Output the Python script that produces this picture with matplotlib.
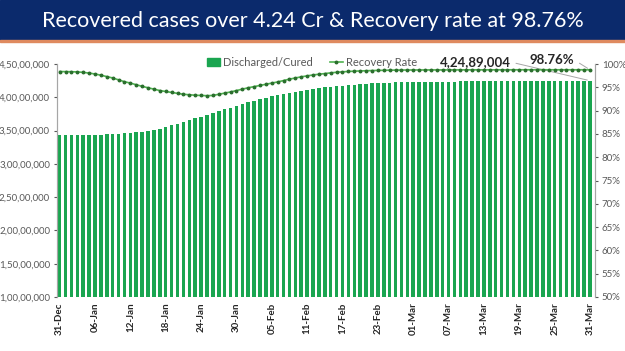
import numpy as np
import pandas as pd
import matplotlib
matplotlib.use('Agg')
from matplotlib import pyplot as plt
from matplotlib.patches import Rectangle
from matplotlib.lines import Line2D
from matplotlib.ticker import FuncFormatter, MultipleLocator

plt.rcParams['font.family'] = ['Lato', 'DejaVu Sans']

title = 'Recovered cases over 4.24 Cr & Recovery rate at 98.76%'
dates = pd.date_range('2021-12-31', '2022-03-31', freq='D')

# cumulative discharged/cured, in lakh
recovered_lakh = [
    342.6, 342.7, 342.9, 343.1, 343.2, 343.4, 343.7, 344.0, 344.3, 344.5,
    345.0, 345.7, 346.3, 347.2, 348.2, 349.6, 351.2, 353.0, 355.8, 358.3,
    360.6, 363.0, 365.6, 368.2, 370.5, 373.7, 376.5, 379.0, 381.7, 384.6,
    387.2, 389.8, 392.5, 395.0, 397.3, 399.5, 401.5, 403.3, 405.0, 406.8,
    408.5, 410.0, 411.5, 412.8, 414.0, 415.0, 416.0, 416.9, 417.7, 418.5,
    419.2, 419.8, 420.4, 420.9, 421.4, 421.8, 422.1, 422.4, 422.7, 422.9,
    423.1, 423.2, 423.3, 423.4, 423.5, 423.6, 423.65, 423.7, 423.8, 423.85,
    423.9, 424.0, 424.05, 424.1, 424.15, 424.2, 424.25, 424.3, 424.35, 424.4,
    424.45, 424.5, 424.55, 424.6, 424.65, 424.7, 424.74, 424.78, 424.82, 424.86,
    424.89004,
]

# recovery rate, %
recovery_rate = [
    98.38, 98.36, 98.34, 98.30, 98.20, 98.05, 97.85, 97.60, 97.30, 97.00,
    96.60, 96.20, 95.90, 95.55, 95.20, 94.90, 94.60, 94.30, 94.10, 93.90,
    93.70, 93.50, 93.40, 93.30, 93.25, 93.20, 93.25, 93.50, 93.75, 94.00,
    94.30, 94.60, 94.90, 95.15, 95.40, 95.65, 95.90, 96.15, 96.45, 96.75,
    97.00, 97.25, 97.45, 97.65, 97.80, 97.95, 98.10, 98.22, 98.32, 98.40,
    98.46, 98.51, 98.55, 98.59, 98.62, 98.65, 98.67, 98.69, 98.70, 98.71,
    98.72, 98.72, 98.72, 98.73, 98.73, 98.73, 98.74, 98.74, 98.74, 98.74,
    98.75, 98.75, 98.75, 98.75, 98.75, 98.75, 98.75, 98.76, 98.76, 98.76,
    98.76, 98.76, 98.76, 98.76, 98.76, 98.76, 98.76, 98.76, 98.76, 98.76,
    98.76,
]

last_recovered_label = '4,24,89,004'
last_rate_label = '98.76%'


def inr(v, pos=None):
    s = str(int(round(v)))
    if len(s) <= 3:
        return s
    head, tail = s[:-3], s[-3:]
    parts = []
    while len(head) > 2:
        parts.insert(0, head[-2:])
        head = head[:-2]
    if head:
        parts.insert(0, head)
    return ','.join(parts + [tail])


recovered = np.array(recovered_lakh) * 1e5
x = np.arange(len(dates))

fig = plt.figure(figsize=(6.25, 3.51), dpi=100)

# title banner
fig.patches.append(Rectangle((0, 1 - 40 / 351), 1, 40 / 351, transform=fig.transFigure,
                             color='#0b2a6c', zorder=0))
fig.patches.append(Rectangle((0, 1 - 42 / 351), 1, 2 / 351, transform=fig.transFigure,
                             color='#df8a5f', zorder=0))
fig.text(0.5, 1 - 21 / 351, title, color='white', fontsize=15.5, ha='center', va='center')

ax = fig.add_axes([57 / 625, 1 - 297 / 351, 538 / 625, 233 / 351])
bars = ax.bar(x, recovered, width=0.6, color='#1aa550', label='Discharged/Cured')
ax.set_ylim(1e7, 4.5e7)
ax.set_xlim(-0.45, 90.85)
ax.yaxis.set_major_locator(MultipleLocator(5e6))
ax.yaxis.set_major_formatter(FuncFormatter(inr))
ax.set_xticks(x[::6])
ax.set_xticklabels([d.strftime('%d-%b') for d in dates[::6]], rotation=90,
                   fontsize=7, fontweight='bold', color='#262626')
ax.tick_params(axis='x', length=0, pad=4)
ax.tick_params(axis='y', labelsize=7, colors='#595959', length=2, pad=3)

ax2 = ax.twinx()
ax2.plot(x, recovery_rate, color='#4fb34f', lw=1.2, marker='o', ms=1.8,
         mfc='#2b6e2e', mec='#2b6e2e', label='Recovery Rate')
ax2.set_ylim(50, 100)
ax2.yaxis.set_major_locator(MultipleLocator(5))
ax2.yaxis.set_major_formatter(FuncFormatter(lambda v, p: '%d%%' % v))
ax2.tick_params(axis='y', labelsize=7, colors='#595959', length=2, pad=3)

for a in (ax, ax2):
    a.spines['top'].set_visible(False)
    a.spines['bottom'].set_visible(False)
    a.spines['left'].set_color('#a6a6a6')
    a.spines['right'].set_color('#a6a6a6')

# callouts for the last day
ax.annotate(last_recovered_label, xy=(x[-1], recovered[-1]),
            xytext=(475 / 625, 1 - 62 / 351), textcoords='figure fraction',
            ha='center', va='center', fontsize=9.5, fontweight='bold', color='#262626',
            arrowprops=dict(arrowstyle='-', color='#a6a6a6', lw=0.7, relpos=(1, 0.5)))
ax2.annotate(last_rate_label, xy=(x[-1], recovery_rate[-1]),
             xytext=(552 / 625, 1 - 60 / 351), textcoords='figure fraction',
             ha='center', va='center', fontsize=9.5, fontweight='bold', color='#262626',
             arrowprops=dict(arrowstyle='-', color='#a6a6a6', lw=0.7, relpos=(1, 0.5)))

handles = [Rectangle((0, 0), 1, 1, color='#1aa550'),
           Line2D([], [], color='#4fb34f', lw=1.2, marker='o', ms=1.8,
                  mfc='#2b6e2e', mec='#2b6e2e')]
fig.legend(handles, ['Discharged/Cured', 'Recovery Rate'], loc='center',
           bbox_to_anchor=(312 / 625, 1 - 62 / 351), ncol=2, frameon=False,
           fontsize=8, labelcolor='#595959', handlelength=1.2, handletextpad=0.3,
           columnspacing=1.5)

fig.savefig('out.png', dpi=100)
